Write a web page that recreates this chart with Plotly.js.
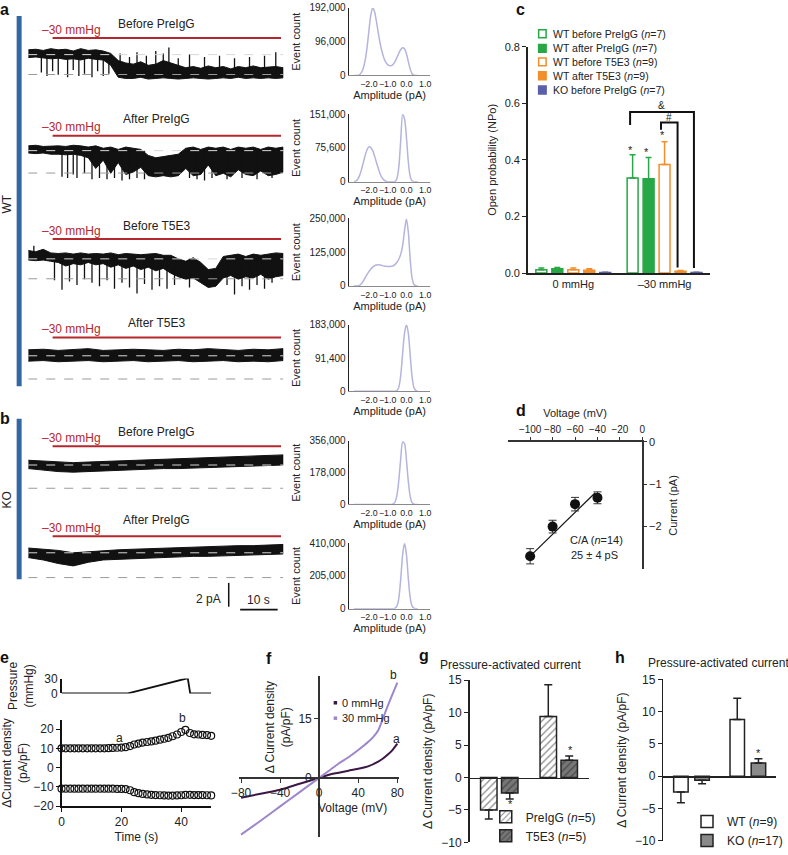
<!DOCTYPE html>
<html><head><meta charset="utf-8">
<script src="https://cdn.plot.ly/plotly-3.0.1.min.js"></script>
<style>html,body{margin:0;padding:0;background:#fff}#chart{width:788px;height:855px}</style>
</head><body><div id="chart"></div>
<script>
// ================= DATA =================
// a/b: single-channel current traces (pA), time in s; envelopes
const traceTitles = ['Before PreIgG','After PreIgG','Before T5E3','After T5E3','Before PreIgG','After PreIgG'];
const pressureText = '–30 mmHg';
const traceOpenLevel = [-1.67,-1.88,-1.67,-1.95,-1.95,-2.08];
const tGrid2 = [0,2,4,6,8,10,12,14,16,18,20,22,24,26,28,30,32,34,36,38,40,42,44,46,48,50,52,54,56,58,60,62,64,66,68];
const tGrid4 = [0,4,8,12,16,20,24,28,32,36,40,44,48,52,56,60,64,68];
const tr1Hi = [0.4,0.45,0.35,0.5,0.4,0.45,0.3,0.5,0.35,0.4,0.3,0.1,-0.5,-0.7,-0.8,-0.6,-0.9,-0.8,-0.5,-0.7,-0.9,-1.1,-1.0,-1.15,-0.95,-1.1,-1.0,-1.2,-1.0,-1.1,-0.95,-1.1,-1.05,-1.0,-1.1];
const tr1Lo = [-0.25,-0.2,-0.3,-0.35,-0.3,-0.4,-0.35,-0.45,-0.3,-0.4,-0.45,-0.9,-1.9,-2.0,-2.0,-1.9,-2.05,-2.0,-1.95,-2.0,-2.05,-2.0,-1.95,-2.0,-2.05,-2.0,-1.95,-2.0,-1.9,-2.0,-1.95,-2.0,-1.95,-2.0,-1.95];
const tr1SpikeT = [3.5,5,6.5,8,10.5,12,13.5,15,17,18.5,20,21.5];
const tr1SpikeY = [-1.5,-1.8,-1.4,-1.7,-1.9,-1.3,-1.8,-1.6,-1.9,-1.4,-1.8,-1.6];
const tr1UpT = [24.5,27,29,31.5,34,36,37.5,40,43,47,51,55,59,63,66];
const tr1UpY = [0.1,-0.2,0.2,-0.1,0.3,0.1,0.6,-0.3,0.0,-0.2,-0.1,-0.3,-0.2,-0.1,0.2];
const tr2Hi = [0.4,0.45,0.35,0.4,0.4,0.35,0.45,0.4,0.3,0.4,0.2,0.3,0.1,0.3,0.2,0.1,-0.4,-0.6,-0.5,-0.4,-0.3,0.2,0.3,0.1,0.3,0.2,0.3,0.1,0.3,0.2,0.3,0.1,0.3,0.2,0.3];
const tr2Lo = [-0.2,-0.25,-0.2,-0.3,-0.3,-0.35,-0.3,-0.4,-0.6,-1.5,-0.8,-1.9,-1.0,-2.0,-1.8,-1.4,-2.1,-2.2,-2.1,-2.2,-2.1,-1.5,-2.1,-2.0,-1.2,-2.1,-1.9,-2.2,-1.6,-2.0,-2.1,-1.7,-2.1,-2.0,-1.8];
const tr2SpikeT = [9,10.5,12,13,15,17,19,21,23,25,27,29,31,43,45,47,49,53,57,61,65];
const tr2SpikeY = [-2.2,-2.3,-2.0,-2.3,-1.9,-2.4,-2.3,-2.4,-2.3,-2.5,-2.4,-2.3,-2.4,-2.3,-2.4,-2.5,-2.3,-2.4,-2.3,-2.4,-2.3];
const tr3Hi = [0.7,0.6,0.8,0.5,0.45,0.5,0.4,0.5,0.4,0.45,0.4,0.5,0.35,0.45,0.4,0.35,0.4,0.45,0.3,0.3,0.0,-0.2,0.1,-0.3,-0.9,-0.8,0.2,0.3,0.4,0.2,0.4,0.3,0.4,0.5,0.45];
const tr3Lo = [-0.1,-0.15,-0.1,-0.2,-0.3,-0.6,-0.4,-0.5,-0.3,-0.5,-0.4,-0.7,-0.5,-0.8,-0.6,-0.9,-0.7,-1.0,-0.8,-1.2,-1.5,-1.7,-1.6,-2.0,-2.4,-2.3,-1.6,-1.4,-1.7,-1.5,-1.6,-1.3,-1.7,-1.5,-1.4];
const tr3SpikeT = [1.5,7,9,11,13,15,17,19,21,23,25,27,29,31,33,35,37,39,43,53,55,57,59,61,63,65];
const tr3SpikeY = [1.1,-1.8,-2.6,-1.9,-2.2,-1.7,-2.0,-2.3,-1.8,-2.5,-2.0,-2.4,-2.9,-2.1,-2.6,-2.3,-2.5,-2.2,-2.4,-2.2,-3.0,-2.3,-2.6,-2.2,-2.5,-2.0];
const tr4Hi = [0.5,0.55,0.45,0.5,0.6,0.45,0.5,0.55,0.5,0.45,0.55,0.5,0.6,0.5,0.45,0.55,0.5,0.6];
const tr4Lo = [-0.45,-0.4,-0.5,-0.45,-0.4,-0.5,-0.45,-0.4,-0.5,-0.45,-0.4,-0.5,-0.45,-0.4,-0.5,-0.45,-0.5,-0.4];
const tr5Hi = [0.4,0.35,0.3,0.2,0.25,0.3,0.35,0.4,0.45,0.45,0.5,0.55,0.6,0.65,0.7,0.75,0.8,0.85];
const tr5Lo = [-0.3,-0.4,-0.55,-0.6,-0.55,-0.45,-0.4,-0.35,-0.35,-0.3,-0.3,-0.25,-0.2,-0.15,-0.1,-0.05,-0.05,0.0];
const tr6Hi = [0.4,0.3,0.2,0.0,0.1,0.2,0.25,0.3,0.35,0.4,0.4,0.45,0.5,0.55,0.6,0.6,0.65,0.7];
const tr6Lo = [-0.4,-0.6,-0.9,-1.1,-0.8,-0.6,-0.5,-0.45,-0.4,-0.4,-0.35,-0.3,-0.3,-0.25,-0.2,-0.2,-0.15,-0.1];

// a/b: amplitude histograms (event count, thousands)
const ampGrid = [-2.8,-2.7,-2.6,-2.5,-2.4,-2.3,-2.2,-2.1,-2.0,-1.9,-1.8,-1.7,-1.6,-1.5,-1.4,-1.3,-1.2,-1.1,-1.0,-0.9,-0.8,-0.7,-0.6,-0.5,-0.4,-0.3,-0.2,-0.1,0.0,0.1,0.2,0.3,0.4,0.5,0.6];
const hist1 = [0,0,0,2,8,20,42,78,125,170,192,182,155,122,92,68,50,38,31,28,28,32,40,52,64,74,79,76,62,40,18,5,1,0,0];
const hist2 = [0,1,5,13,26,42,58,71,78,77,70,58,44,30,18,9,4,1,0,0,0,0,1,8,35,95,151,140,100,45,12,2,0,0,0];
const hist3 = [0,0,0,2,8,18,30,42,53,62,70,75,78,79,78,76,74,73,72,72,73,75,80,88,100,118,150,205,248,200,100,30,6,1,0];
const hist4 = [0,0,0,0,0,0,0,0,0,0,0,0,0,0,0,0,0,0,0,0,0,0,0,2,12,45,105,160,183,160,100,40,10,2,0];
const hist5 = [0,0,0,0,0,0,0,0,0,0,0,0,0,0,0,0,0,0,0,0,0,3,15,55,140,260,350,340,250,130,45,10,1,0,0];
const hist6 = [0,0,0,0,0,0,0,0,0,0,0,0,0,0,0,0,0,0,0,0,0,0,3,18,70,190,340,410,340,190,70,18,3,0,0];
const histMax = [192000,151000,250000,183000,356000,410000];
const histMid = [96000,75600,125000,91400,178000,205000];

// c: open probability
const cCategories = ['0 mmHg','–30 mmHg'];
const cNames = ['WT before PreIgG (<i>n</i>=7)','WT after PreIgG (<i>n</i>=7)','WT before T5E3 (<i>n</i>=9)','WT after T5E3 (<i>n</i>=9)','KO before PreIgG (<i>n</i>=7)'];
const cWTbeforePreIgG = [0.012,0.336], cWTbeforePreIgGErr = [0.006,0.082];
const cWTafterPreIgG  = [0.015,0.333], cWTafterPreIgGErr  = [0.005,0.075];
const cWTbeforeT5E3   = [0.012,0.384], cWTbeforeT5E3Err   = [0.006,0.080];
const cWTafterT5E3    = [0.010,0.006], cWTafterT5E3Err    = [0.005,0.003];
const cKObeforePreIgG = [0.002,0.002], cKObeforePreIgGErr = [0.001,0.001];

// d: I-V of single channel
const dVoltage = [-100,-80,-60,-40];
const dCurrent = [-2.7,-2.0,-1.47,-1.32];
const dErr = [0.18,0.15,0.16,0.14];
const dFitV = [-102,-42];
const dFitI = [-2.75,-1.2];

// e: pressure protocol and current density
const pressureTime = [0,22.2,41.7,42.2,43.0,50];
const pressureVal = [0,0,30,30,0,0];
const eTime = [0,1.4,2.9,4.3,5.7,7.1,8.6,10,11.4,12.9,14.3,15.7,17.1,18.6,20,21.4,22.9,24.3,25.7,27.1,28.6,30,31.4,32.9,34.3,35.7,37.1,38.6,40,41.4,42.9,44.3,45.7,47.1,48.6,50];
const eUpper = [10,10,10,10,10,10,10,10,10,10,10,10.1,10.2,10.3,10.4,10.6,11.2,12.0,12.5,13.0,13.3,13.6,14.0,14.5,15.0,15.5,16.3,17.2,18.5,19.6,18.0,17.3,17.2,17.0,16.9,16.5];
const eLower = [-11,-11,-11,-11,-11,-11,-11,-11,-11,-11,-11,-11,-11,-11.1,-11.1,-11.2,-11.8,-12.8,-13.3,-13.7,-14.0,-14.2,-14.3,-14.4,-14.5,-14.6,-14.6,-14.5,-14.4,-14.2,-14.2,-14.3,-14.3,-14.3,-14.4,-14.5];

// f: I-V ramps
const fV0 = [-80,-60,-40,-20,0,10,20,30,40,50,60,65,70,75,80];
const fI0 = [-5.0,-4.0,-3.0,-1.5,0,0.8,1.3,1.8,2.3,2.9,4.0,4.8,5.8,7.0,8.6];
const fV30 = [-80,-60,-40,-20,0,10,20,30,40,50,55,60,65,70,75,80];
const fI30 = [-14.3,-10.8,-7.2,-3.6,0,1.8,3.6,5.2,7.0,9.0,10.2,11.8,14.8,18.0,21.0,24.0];

// g, h: pressure-activated current density
const ghGroups = ['0 mmHg','30 mmHg'];
const gPreIgG = [-5.0,9.4], gPreIgGErr = [1.4,4.9];
const gT5E3 = [-2.4,2.65], gT5E3Err = [0.9,0.65];
const hWT = [-2.45,8.8], hWTErr = [1.65,3.3];
const hKO = [-0.6,2.05], hKOErr = [0.55,0.65];

// ================= LAYOUT HELPERS =================
const W = 788, H = 855;
const FONT = 'Liberation Sans, Arial, Helvetica, sans-serif';
const px = x => x / W;
const py = y => 1 - y / H;
const xd = (a, b) => [a / W, b / W];
const yd = (top, bot) => [1 - bot / H, 1 - top / H];
const layout = {
  width: W, height: H, margin: {l:0, r:0, t:0, b:0},
  paper_bgcolor: '#fff', plot_bgcolor: 'rgba(0,0,0,0)',
  font: {family: FONT, size: 11, color: '#222'},
  barmode: 'group', showlegend: true, shapes: [], annotations: []
};
const data = [];
function axName(k, l) { return l + 'axis' + (k === 1 ? '' : k); }
function ref(k, l) { return l + (k === 1 ? '' : k); }
function base(extra) {
  return Object.assign({showgrid:false, zeroline:false, showline:false, ticks:'', showticklabels:false, fixedrange:true}, extra);
}
function ann(x, y, text, o) {
  o = o || {};
  layout.annotations.push(Object.assign({xref:'paper', yref:'paper', x:px(x), y:py(y), text:text, showarrow:false,
    xanchor:'center', yanchor:'middle', font:{family:FONT, size:12, color:'#222'}}, o));
}
function line(x0, y0, x1, y1, color, width, dash) {
  layout.shapes.push({type:'line', xref:'paper', yref:'paper', x0:px(x0), y0:py(y0), x1:px(x1), y1:py(y1),
    line:{color:color, width:width, dash:dash || 'solid'}});
}
function rect(x0, y0, x1, y1, fill, lc, lw) {
  layout.shapes.push({type:'rect', xref:'paper', yref:'paper', x0:px(x0), y0:py(y0), x1:px(x1), y1:py(y1),
    fillcolor:fill, line:{color:lc || fill, width:lw === undefined ? 0 : lw}});
}

// ================= a/b traces =================
const traceSets = [
  {t:tGrid2, hi:tr1Hi, lo:tr1Lo, sT:tr1SpikeT, sY:tr1SpikeY, uT:tr1UpT, uY:tr1UpY},
  {t:tGrid2, hi:tr2Hi, lo:tr2Lo, sT:tr2SpikeT, sY:tr2SpikeY},
  {t:tGrid2, hi:tr3Hi, lo:tr3Lo, sT:tr3SpikeT, sY:tr3SpikeY},
  {t:tGrid4, hi:tr4Hi, lo:tr4Lo},
  {t:tGrid4, hi:tr5Hi, lo:tr5Lo},
  {t:tGrid4, hi:tr6Hi, lo:tr6Lo}
];
const traceCenterY = [55, 151.7, 260.7, 358.3, 468.3, 556.7];
const traceTitleY = [24, 120, 227.3, 325, 435, 523.3];
const redY = [38.3, 136.7, 240.7, 340, 449.3, 540];
const PXPA = 12; // px per pA
const TX0 = 28.3, TX1 = 284, TMAX = 68;
const tPx = t => TX0 + t * (TX1 - TX0) / TMAX;

traceSets.forEach((s, i) => {
  const k = i + 1, yc = traceCenterY[i];
  layout[axName(k,'x')] = base({domain: xd(TX0, TX1), range: [0, TMAX], anchor: ref(k,'y')});
  layout[axName(k,'y')] = base({domain: yd(yc - 1.3*PXPA, yc + 3.2*PXPA), range: [-3.2, 1.3], anchor: ref(k,'x')});
  const rev = s.t.slice().reverse();
  data.push({type:'scatter', mode:'lines', x: s.t.concat(rev), y: s.hi.concat(s.lo.slice().reverse()),
    fill:'toself', fillcolor:'#111', line:{color:'#111', width:1, shape:'linear'}, hoverinfo:'skip', showlegend:false,
    xaxis: ref(k,'x'), yaxis: ref(k,'y')});
  const xs = [], ys = [];
  if (s.sT) s.sT.forEach((t, j) => { xs.push(t, t, null); ys.push(0, s.sY[j], null); });
  if (s.uT) s.uT.forEach((t, j) => { xs.push(t, t, null); ys.push(traceOpenLevel[i], s.uY[j], null); });
  if (xs.length) data.push({type:'scatter', mode:'lines', x:xs, y:ys, line:{color:'#111', width:1.3},
    hoverinfo:'skip', showlegend:false, xaxis: ref(k,'x'), yaxis: ref(k,'y'), connectgaps:false});
  // closed / open reference levels
  [[0,'#d8d8d8'],[traceOpenLevel[i],'#9a9a9a']].forEach(([lv, col]) => {
    layout.shapes.push({type:'line', xref: ref(k,'x'), yref: ref(k,'y'), x0:0, x1:TMAX, y0:lv, y1:lv,
      line:{color:col, width:1, dash:'dash'}, layer:'above'});
  });
  // pressure bar (red) and labels
  line(tPx(6.5), redY[i], tPx(67.4), redY[i], '#b5272d', 2);
  ann(71.7, redY[i] - 8.5, pressureText, {font:{family:FONT, size:12, color:'#b5272d'}});
  ann(157, traceTitleY[i], traceTitles[i], {font:{family:FONT, size:12, color:'#222'}});
});
// group bars WT / KO
rect(16.7, 16, 21.7, 389, '#3567a6');
rect(16.7, 421.7, 21.7, 583.3, '#3567a6');
ann(7, 205, 'WT', {textangle:-90, font:{family:FONT, size:12, color:'#222'}});
ann(7, 503, 'KO', {textangle:-90, font:{family:FONT, size:12, color:'#222'}});
// scale bars
line(229.3, 587, 229.3, 611, '#111', 1.5);
ann(224, 603, '2 pA', {xanchor:'right'});
line(tPx(56.5), 614, tPx(66.5), 614, '#111', 1.8);
ann((tPx(56.5) + tPx(66.5)) / 2, 604, '10 s');

// ================= histograms =================
const histSets = [hist1, hist2, hist3, hist4, hist5, hist6];
const histTop = [8, 115, 220, 327, 444, 547];
const histBot = [76, 183, 288, 394, 508, 613];
histSets.forEach((h, i) => {
  const k = 7 + i;
  layout[axName(k,'x')] = base({domain: xd(350, 431), range: [-3.05, 1.25], anchor: ref(k,'y'),
    showline:true, linecolor:'#8a8a8a', linewidth:1, showticklabels:true, tickangle:0,
    tickvals:[-2,-1,0,1], ticktext:['−2.0','−1.0','0.0','1.0'], tickfont:{size:8.8, color:'#222'},
    title:{text:'Amplitude (pA)', font:{size:11}, standoff:2}});
  layout[axName(k,'y')] = base({domain: yd(histTop[i], histBot[i]), range: [0, histMax[i]], anchor: ref(k,'x'),
    showline:true, linecolor:'#222', linewidth:1.5, showticklabels:true,
    tickvals:[0, histMid[i], histMax[i]], ticktext:[0, histMid[i], histMax[i]].map(v => v.toLocaleString('en-US')),
    tickfont:{size:10, color:'#222'}, title:{text:'Event count', font:{size:11}, standoff:6}});
  data.push({type:'scatter', mode:'lines', x: ampGrid, y: h.map(v => v * 1000), line:{color:'#b4b4de', width:1.5, shape:'spline', smoothing:0.8},
    hoverinfo:'skip', showlegend:false, xaxis: ref(k,'x'), yaxis: ref(k,'y')});
});

// ================= c: open probability =================
const GREEN = '#27a745', ORANGE = '#f28e2b', KOC = '#5a5fa8';
const cSeries = [
  {v:cWTbeforePreIgG, e:cWTbeforePreIgGErr, fill:'#fff', edge:GREEN},
  {v:cWTafterPreIgG,  e:cWTafterPreIgGErr,  fill:GREEN,  edge:GREEN},
  {v:cWTbeforeT5E3,   e:cWTbeforeT5E3Err,   fill:'#fff', edge:ORANGE},
  {v:cWTafterT5E3,    e:cWTafterT5E3Err,    fill:ORANGE, edge:ORANGE},
  {v:cKObeforePreIgG, e:cKObeforePreIgGErr, fill:KOC,    edge:KOC}
];
layout.xaxis13 = base({domain: xd(529, 712), type:'category', categoryorder:'array', categoryarray:cCategories,
  anchor:'y13', showline:true, linecolor:'#222', linewidth:1.5, showticklabels:true, tickfont:{size:11}});
layout.yaxis13 = base({domain: yd(47, 275), range:[0, 0.8], anchor:'x13', showline:true, linecolor:'#222', linewidth:1.5,
  ticks:'outside', ticklen:4, tickcolor:'#222', showticklabels:true, tickvals:[0,0.2,0.4,0.6,0.8], tickformat:'.1f',
  tickfont:{size:11}, title:{text:'Open probability (NPo)', font:{size:11}, standoff:6}});
const cW = 0.12, cPitch = 0.175;
cSeries.forEach((s, i) => {
  data.push({type:'bar', name:cNames[i], x:cCategories, y:s.v, width:cW, offset:(i - 2) * cPitch - cW / 2,
    marker:{color:s.fill, line:{color:s.edge, width:1.5}},
    error_y:{type:'data', symmetric:false, array:s.e, arrayminus:s.e.map(() => 0), color:s.edge, thickness:1.5, width:3},
    xaxis:'x13', yaxis:'y13', showlegend:false, hoverinfo:'skip'});
});
// custom legend (tight spacing)
const cLegY = [34, 48.7, 62.3, 76.3, 90.7];
cSeries.forEach((s, i) => {
  rect(540, cLegY[i] - 4, 547.5, cLegY[i] + 4, s.fill, s.edge, 1.5);
  ann(552, cLegY[i], cNames[i], {xanchor:'left', font:{family:FONT, size:10.5, color:'#222'}});
});
// significance marks
ann(632.3, 151, '*', {font:{family:FONT, size:11}});
ann(647.7, 153, '*', {font:{family:FONT, size:11}});
ann(664, 136, '*', {font:{family:FONT, size:11}});
layout.shapes.push({type:'path', xref:'paper', yref:'paper', line:{color:'#111', width:2},
  path:`M${px(631.7)},${py(126)} L${px(631.7)},${py(112.7)} L${px(695.7)},${py(112.7)} L${px(695.7)},${py(270)}`});
layout.shapes.push({type:'path', xref:'paper', yref:'paper', line:{color:'#111', width:2},
  path:`M${px(662.7)},${py(130.7)} L${px(662.7)},${py(123.3)} L${px(679.3)},${py(123.3)} L${px(679.3)},${py(269.3)}`});
ann(663, 106, '&', {font:{family:FONT, size:10}});
ann(671, 118, '#', {font:{family:FONT, size:10}});

// ================= d: single-channel I-V =================
layout.xaxis14 = base({domain: xd(509, 644), range:[-120, 0], side:'top', anchor:'y14', showline:true, linecolor:'#333', linewidth:1.5,
  ticks:'outside', ticklen:3, tickcolor:'#333', showticklabels:true, tickvals:[-100,-80,-60,-40,-20,0], tickfont:{size:10},
  title:{text:'Voltage (mV)', font:{size:11}, standoff:4}});
layout.yaxis14 = base({domain: yd(445, 573), range:[-3, 0], side:'right', anchor:'x14', showline:true, linecolor:'#333', linewidth:1.5,
  ticks:'outside', ticklen:3, tickcolor:'#333', showticklabels:true, tickvals:[0,-1,-2], tickfont:{size:11},
  title:{text:'Current (pA)', font:{size:11}, standoff:8}});
data.push({type:'scatter', mode:'lines', x:dFitV, y:dFitI, line:{color:'#111', width:1.2}, xaxis:'x14', yaxis:'y14', showlegend:false, hoverinfo:'skip'});
data.push({type:'scatter', mode:'markers', x:dVoltage, y:dCurrent, marker:{color:'#111', size:10},
  error_y:{type:'data', array:dErr, color:'#333', thickness:1, width:4}, xaxis:'x14', yaxis:'y14', showlegend:false, hoverinfo:'skip'});
ann(597.7, 544, 'C/A (<i>n</i>=14)', {font:{family:FONT, size:11}});
ann(596, 559, '25 ± 4 pS', {font:{family:FONT, size:11}});

// ================= e: pressure + current density =================
layout.xaxis15 = base({domain: xd(61.7, 211.7), range:[0, 50], anchor:'y15'});
layout.yaxis15 = base({domain: yd(683.3, 698.3), range:[0, 30], anchor:'x15', showline:true, linecolor:'#111', linewidth:1.5,
  showticklabels:true, tickvals:[0,30], tickfont:{size:12}, title:{text:'Pressure<br>(mmHg)', font:{size:12}, standoff:8}});
data.push({type:'scatter', mode:'lines', x:pressureTime, y:pressureVal, line:{color:'#111', width:1.8}, xaxis:'x15', yaxis:'y15', showlegend:false, hoverinfo:'skip', cliponaxis:false});
layout.xaxis16 = base({domain: xd(61.7, 211.7), range:[0, 50], anchor:'y16', showline:true, linecolor:'#111', linewidth:1.5,
  ticks:'outside', ticklen:4, tickcolor:'#111', showticklabels:true, tickvals:[0,20,40], tickfont:{size:12},
  title:{text:'Time (s)', font:{size:12}, standoff:4}});
layout.yaxis16 = base({domain: yd(725, 811.7), range:[-20, 24.8], anchor:'x16', showline:true, linecolor:'#111', linewidth:1.5,
  ticks:'outside', ticklen:4, tickcolor:'#111', showticklabels:true, tickvals:[-20,-10,0,10,20], tickfont:{size:12},
  title:{text:'ΔCurrent density<br>(pA/pF)', font:{size:12}, standoff:6}});
[eUpper, eLower].forEach(v => data.push({type:'scatter', mode:'markers', x:eTime, y:v,
  marker:{symbol:'circle-open', size:7, color:'#111', line:{width:1.2}}, xaxis:'x16', yaxis:'y16', showlegend:false, hoverinfo:'skip', cliponaxis:false}));
ann(120, 743, 'a', {font:{family:FONT, size:12}});
ann(182.7, 723, 'b', {font:{family:FONT, size:12}});

// ================= f: ramp I-V =================
const F_DARK = '#3b1745', F_LIGHT = '#9e86cb';
layout.xaxis17 = base({domain: xd(239.7, 400.3), range:[-82, 82], anchor:'free', position: py(783.3), showline:true,
  linecolor:'#333', linewidth:2, ticks:'outside', ticklen:4, tickcolor:'#333', showticklabels:true,
  tickvals:[-80,-40,0,40,80], tickfont:{size:12}});
layout.yaxis17 = base({domain: yd(681, 843.3), range:[-15, 25.6], anchor:'free', position: px(320), showline:true,
  linecolor:'#333', linewidth:2, ticks:'outside', ticklen:4, tickcolor:'#333', showticklabels:true,
  tickvals:[0,15], tickfont:{size:12}});
data.push({type:'scatter', mode:'lines', x:fV0, y:fI0, name:'0 mmHg', line:{color:F_DARK, width:2, shape:'spline'}, xaxis:'x17', yaxis:'y17', showlegend:false, hoverinfo:'skip'});
data.push({type:'scatter', mode:'lines', x:fV30, y:fI30, name:'30 mmHg', line:{color:F_LIGHT, width:2, shape:'spline'}, xaxis:'x17', yaxis:'y17', showlegend:false, hoverinfo:'skip'});
ann(279, 732, 'Δ Current density<br>(pA/pF)', {textangle:-90, font:{family:FONT, size:12}});
ann(353, 814, 'Voltage (mV)', {font:{family:FONT, size:12}});
ann(397.7, 744, 'a', {font:{family:FONT, size:12}});
ann(395, 680, 'b', {font:{family:FONT, size:12}});
rect(334.5, 706, 338, 709.5, F_DARK);
ann(341, 707.7, '0 mmHg', {xanchor:'left', font:{family:FONT, size:11}});
rect(334.5, 721.5, 338, 725, F_LIGHT);
ann(341, 723.3, '30 mmHg', {xanchor:'left', font:{family:FONT, size:11}});

// ================= g, h: pressure-activated current =================
function ghAxes(k, x0, x1, yTop, yZero, yBot) {
  layout[axName(k,'x')] = base({domain: xd(x0, x1), type:'category', categoryorder:'array', categoryarray:ghGroups,
    anchor:'free', position: py(yZero), showline:true, linecolor:'#222', linewidth:1.5});
  layout[axName(k,'y')] = base({domain: yd(yTop, yBot), range:[-10, 15], anchor: ref(k,'x'), showline:true, linecolor:'#222', linewidth:1.5,
    ticks:'outside', ticklen:4, tickcolor:'#222', showticklabels:true, tickvals:[-10,-5,0,5,10,15], tickfont:{size:12},
    title:{text:'Δ Current density (pA/pF)', font:{size:12}, standoff:6}});
}
ghAxes(18, 470.7, 590, 685, 783.3, 848.3);
ghAxes(19, 665, 778, 684.3, 781.7, 846.7);
function ghBar(k, name, v, e, fill, pattern, w, off, legend) {
  const tr = {type:'bar', name:name, x:ghGroups, y:v, width:w, offset:off,
    marker:{color:fill, line:{color:'#222', width:1.5}},
    error_y:{type:'data', symmetric:false, array:v.map((y, j) => y > 0 ? e[j] : 0), arrayminus:v.map((y, j) => y < 0 ? e[j] : 0),
      color:'#222', thickness:1.5, width:4},
    xaxis: ref(k,'x'), yaxis: ref(k,'y'), legend: legend, hoverinfo:'skip'};
  if (pattern) tr.marker.pattern = {shape:'/', fgcolor:'#222', size:5, solidity:0.28, fillmode:'overlay'};
  data.push(tr);
}
const gW = 0.277, gC = 0.176;
ghBar(18, 'PreIgG (<i>n</i>=5)', gPreIgG, gPreIgGErr, '#ffffff', true, gW, -gC - gW/2, 'legend');
ghBar(18, 'T5E3 (<i>n</i>=5)', gT5E3, gT5E3Err, '#767676', true, gW, gC - gW/2, 'legend');
const hW = 0.257, hC = 0.188;
ghBar(19, 'WT (<i>n</i>=9)', hWT, hWTErr, '#ffffff', false, hW, -hC - hW/2, 'legend2');
ghBar(19, 'KO (<i>n</i>=17)', hKO, hKOErr, '#8a8a8a', false, hW, hC - hW/2, 'legend2');
layout.legend = {x:px(487), y:py(808), xanchor:'left', yanchor:'top', bgcolor:'rgba(0,0,0,0)', font:{family:FONT, size:12, color:'#222'}, tracegroupgap:0};
layout.legend2 = {x:px(689), y:py(813), xanchor:'left', yanchor:'top', bgcolor:'rgba(0,0,0,0)', font:{family:FONT, size:12, color:'#222'}, tracegroupgap:0};
ann(511.7, 810, '*', {font:{family:FONT, size:11}});
ann(571.7, 755, '*', {font:{family:FONT, size:11}});
ann(760, 758, '*', {font:{family:FONT, size:11}});
ann(512, 670, 'Pressure-activated current', {font:{family:FONT, size:12}});
ann(720, 668, 'Pressure-activated current', {font:{family:FONT, size:12}});

// ================= panel letters =================
[['a',5,10],['b',5,421.7],['c',522,10],['d',522,413],['e',5,662],['f',270,663],['g',425,660],['h',622,662]].forEach(([t,x,y]) =>
  ann(x, y, '<b>' + t + '</b>', {font:{family:FONT, size:16, color:'#111'}}));

Plotly.newPlot('chart', data, layout, {staticPlot:true, displayModeBar:false});
</script>
</body></html>
